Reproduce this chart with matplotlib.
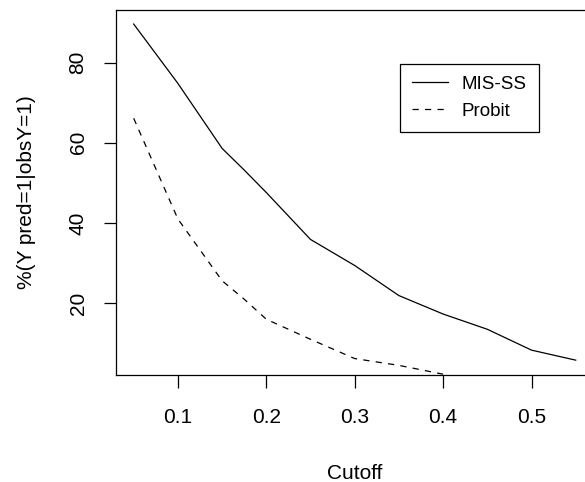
import matplotlib
matplotlib.use("Agg")
import matplotlib.pyplot as plt

plt.rcParams['font.family'] = ['Liberation Sans', 'DejaVu Sans']

cutoff_mis = [0.05, 0.10, 0.15, 0.175, 0.20, 0.25, 0.30, 0.35, 0.40, 0.45, 0.50, 0.55]
mis_ss = [89.6, 74.8, 58.6, 53.2, 47.6, 35.9, 29.4, 21.9, 17.3, 13.5, 8.3, 5.8]

cutoff_probit = [0.05, 0.10, 0.15, 0.175, 0.20, 0.25, 0.30, 0.35, 0.40]
probit = [66.1, 41.0, 25.6, 21.0, 16.0, 11.0, 6.2, 4.5, 2.3]

xticks = [0.1, 0.2, 0.3, 0.4, 0.5]
yticks = [20, 40, 60, 80]
series_labels = ["MIS-SS", "Probit"]

W, H = 585, 482
fig = plt.figure(figsize=(W / 100, H / 100), dpi=100)
left, right, top, bottom = 116, 593.4, 10, 375
ax = fig.add_axes([left / W, (H - bottom) / H, (right - left) / W, (bottom - top) / H])

ax.plot(cutoff_mis, mis_ss, color='black', lw=0.9, label=series_labels[0])
ax.plot(cutoff_probit, probit, color='black', lw=0.9, linestyle=(0, (5, 5)), label=series_labels[1])

ax.set_xlim(0.03, 0.57)
ax.set_ylim(2.1, 93.1)
ax.set_xticks(xticks)
ax.set_xticklabels([f"{t:.1f}" for t in xticks])
ax.set_yticks(yticks)
ax.set_yticklabels([str(t) for t in yticks], rotation=90, va='center')

for s in ax.spines.values():
    s.set_linewidth(0.9)
    s.set_color('black')

ax.tick_params(axis='both', direction='out', length=9, width=0.9, labelsize=15, colors='black')
ax.tick_params(axis='x', pad=14.5)
ax.tick_params(axis='y', pad=11.5)

ax.set_xlabel("Cutoff", fontsize=15, labelpad=27)
ax.set_ylabel("%(Y pred=1|obsY=1)", fontsize=15, labelpad=23.5)

leg = ax.legend(loc='upper left', bbox_to_anchor=((400 - left) / (right - left), (bottom - 63.5) / (bottom - top)),
                borderaxespad=0, fontsize=13.5, handlelength=1.9, handletextpad=0.75,
                borderpad=0.65, labelspacing=0.52, fancybox=False, framealpha=1)
leg.get_frame().set_edgecolor('black')
leg.get_frame().set_linewidth(0.9)

fig.savefig("out.png", dpi=100)
